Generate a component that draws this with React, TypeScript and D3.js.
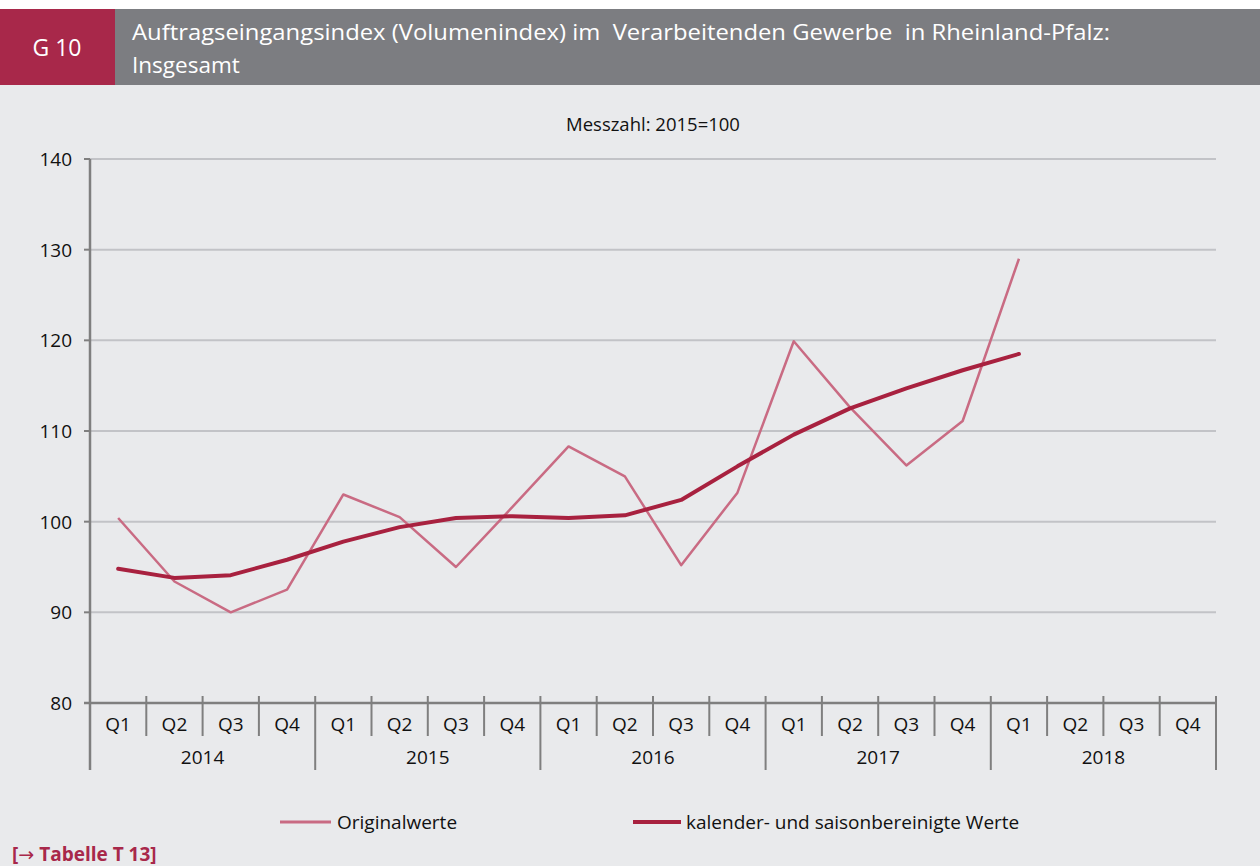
import React from "react";
import * as d3 from "d3";

const years = ["2014", "2015", "2016", "2017", "2018"];
const quarters = ["Q1", "Q2", "Q3", "Q4"];
const original = [100.4, 93.4, 90.0, 92.5, 103.0, 100.5, 95.0, 101.6, 108.3, 105.0, 95.2, 103.2, 119.9, 112.6, 106.2, 111.1, 129.0];
const adjusted = [94.8, 93.8, 94.1, 95.8, 97.8, 99.4, 100.4, 100.6, 100.4, 100.7, 102.4, 106.1, 109.6, 112.5, 114.7, 116.7, 118.5];
const yTicks = [80, 90, 100, 110, 120, 130, 140];

const W = 1260, H = 866;
const FONT = "'Open Sans', 'Noto Sans', sans-serif";

export default function App() {
  const left = 90, right = 1216, top = 159, bottom = 703;
  const cats = years.flatMap((y) => quarters.map((q) => `${y}-${q}`));
  const x = d3.scaleBand<string>().domain(cats).range([left, right]).padding(0);
  const y = d3.scaleLinear().domain([80, 140]).range([bottom, top]);
  const cx = (i: number) => (x(cats[i]) as number) + x.bandwidth() / 2;
  const line = d3.line<number>().x((_, i) => cx(i)).y((d) => y(d));
  const bw = x.bandwidth();

  return (
    <svg width={W} height={H} style={{ position: "absolute", left: 0, top: 0 }} fontFamily={FONT}>
      <rect x={0} y={0} width={W} height={H} fill="#ffffff" />
      <rect x={0} y={85} width={W} height={H - 85} fill="#e9eaec" />
      <rect x={0} y={9} width={W} height={76} fill="#7c7d81" />
      <rect x={0} y={9} width={115} height={76} fill="#a8284a" />
      <text x={57} y={56} textAnchor="middle" fill="#fff" fontSize={23}>G 10</text>
      <text x={132} y={40} fill="#fff" fontSize={22.5} textLength={978} lengthAdjust="spacingAndGlyphs" style={{ whiteSpace: "pre" }}>
        Auftragseingangsindex (Volumenindex) im  Verarbeitenden Gewerbe  in Rheinland-Pfalz:
      </text>
      <text x={132} y={73} fill="#fff" fontSize={22.5}>Insgesamt</text>

      <text x={653} y={131} textAnchor="middle" fontSize={18.5} fill="#111">Messzahl: 2015=100</text>

      {yTicks.map((t) => (
        <g key={t}>
          {t !== 80 && <line x1={left} x2={right} y1={y(t)} y2={y(t)} stroke="#c2c3c7" strokeWidth={2} />}
          <line x1={left - 6} x2={left} y1={y(t)} y2={y(t)} stroke="#7f7f7f" strokeWidth={2} />
          <text x={left - 18} y={y(t) + 7} textAnchor="end" fontSize={19} fill="#111">{t}</text>
        </g>
      ))}

      <line x1={left} x2={left} y1={top} y2={770} stroke="#7f7f7f" strokeWidth={2.5} />
      <line x1={left - 6} x2={right} y1={bottom} y2={bottom} stroke="#7f7f7f" strokeWidth={2.5} />
      {cats.map((c, i) => {
        const x0 = x(c) as number;
        const isYear = i % 4 === 0;
        return (
          <g key={c}>
            {i > 0 && (
              <line x1={x0} x2={x0} y1={bottom - 7} y2={isYear ? 770 : 736} stroke="#7f7f7f" strokeWidth={2} />
            )}
            <text x={x0 + bw / 2} y={731} textAnchor="middle" fontSize={19} fill="#111">{quarters[i % 4]}</text>
          </g>
        );
      })}
      <line x1={right} x2={right} y1={bottom - 7} y2={770} stroke="#7f7f7f" strokeWidth={2} />
      {years.map((yr, j) => (
        <text key={yr} x={left + bw * 4 * j + bw * 2} y={764} textAnchor="middle" fontSize={19} fill="#111">{yr}</text>
      ))}

      <path d={line(original) || ""} fill="none" stroke="#c96b83" strokeWidth={2.5} strokeLinejoin="round" />
      <path d={line(adjusted) || ""} fill="none" stroke="#a8213f" strokeWidth={4} strokeLinejoin="round" strokeLinecap="round" />

      <line x1={280} x2={331} y1={822} y2={822} stroke="#c96b83" strokeWidth={3} />
      <text x={337} y={829} fontSize={19} fill="#111">Originalwerte</text>
      <line x1={633} x2={681} y1={822} y2={822} stroke="#a8213f" strokeWidth={4} />
      <text x={686} y={829} fontSize={19} fill="#111">kalender- und saisonbereinigte Werte</text>

      <text x={12} y={861} fontSize={19} fontWeight="bold" fill="#a8284a">
        [<tspan fontFamily="'DejaVu Sans', sans-serif" fontWeight="normal">→</tspan> Tabelle T 13]
      </text>
    </svg>
  );
}
